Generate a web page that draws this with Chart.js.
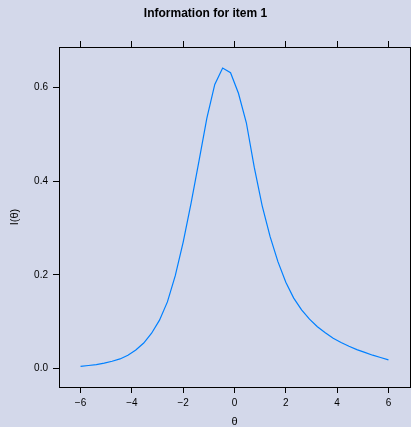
<!DOCTYPE html>
<html>
<head>
<meta charset="utf-8">
<script src="https://cdn.jsdelivr.net/npm/chart.js@4/dist/chart.umd.min.js"></script>
<style>
html, body { margin: 0; padding: 0; background: #d3d8ea; }
canvas { display: block; }
</style>
</head>
<body>
<canvas id="chart" width="411" height="427"></canvas>
<script>
// theta grid (40 points from -6 to 6) and item information
const theta = [-6, -5.692, -5.385, -5.077, -4.769, -4.462, -4.154, -3.846, -3.538, -3.231,
               -2.923, -2.615, -2.308, -2, -1.692, -1.385, -1.077, -0.769, -0.462, -0.154,
               0.154, 0.462, 0.769, 1.077, 1.385, 1.692, 2, 2.308, 2.615, 2.923,
               3.231, 3.538, 3.846, 4.154, 4.462, 4.769, 5.077, 5.385, 5.692, 6];
const info = [0.004, 0.006, 0.008, 0.011, 0.015, 0.020, 0.028, 0.039, 0.054, 0.075,
              0.103, 0.142, 0.198, 0.270, 0.353, 0.443, 0.535, 0.607, 0.642, 0.632,
              0.588, 0.525, 0.430, 0.348, 0.282, 0.228, 0.184, 0.150, 0.125, 0.105,
              0.089, 0.076, 0.064, 0.055, 0.047, 0.040, 0.034, 0.028, 0.023, 0.018];
const xTicks = [-6, -4, -2, 0, 2, 4, 6];
const yTicks = [0, 0.2, 0.4, 0.6];

const bg = "#d3d8ea";
Chart.defaults.font.family = "'Liberation Sans', Arial, Helvetica, sans-serif";
Chart.defaults.color = "#000";

// fill the whole canvas like the lattice panel background
const bgPlugin = {
    id: "bg",
    beforeDraw(chart) {
        const c = chart.ctx;
        c.save();
        c.fillStyle = bg;
        c.fillRect(0, 0, chart.width, chart.height);
        c.restore();
    }
};

const gridOpts = { drawOnChartArea: false, drawTicks: true, tickLength: 6, color: "#000", tickColor: "#000", lineWidth: 1 };
const borderOpts = { display: true, color: "#000", width: 1 };
const xRange = { min: -6.84, max: 6.84 };
const yRange = { min: -0.04, max: 0.687 };

new Chart(document.getElementById("chart"), {
    type: "line",
    data: {
        datasets: [{
            data: theta.map((t, i) => ({ x: t, y: info[i] })),
            borderColor: "#0080ff",
            borderWidth: 1.2,
            pointRadius: 0,
            tension: 0,
            fill: false
        }]
    },
    options: {
        responsive: false,
        animation: false,
        devicePixelRatio: 1,
        layout: { padding: 0 },
        plugins: {
            legend: { display: false },
            tooltip: { enabled: false },
            title: {
                display: true,
                text: "Information for item 1",
                color: "#000",
                font: { size: 12, weight: "bold" },
                padding: { top: 6, bottom: 20.6 }
            }
        },
        scales: {
            x: {
                type: "linear", position: "bottom", ...xRange,
                afterBuildTicks: ax => { ax.ticks = xTicks.map(v => ({ value: v })); },
                afterFit: ax => { ax.height = 40; },
                ticks: {
                    font: { size: 10 }, color: "#000", padding: 4, maxRotation: 0, minRotation: 0, autoSkip: false,
                    callback: v => String(v).replace("-", "\u2212")
                },
                grid: gridOpts, border: borderOpts,
                title: { display: true, text: "θ", font: { size: 11, lineHeight: 1 }, padding: { top: 0, bottom: 0 } }
            },
            x2: {
                type: "linear", position: "top", ...xRange,
                afterBuildTicks: ax => { ax.ticks = xTicks.map(v => ({ value: v })); },
                afterFit: ax => { ax.height = 6; },
                ticks: { display: false },
                grid: gridOpts, border: borderOpts
            },
            y: {
                type: "linear", position: "left", ...yRange,
                afterBuildTicks: ax => { ax.ticks = yTicks.map(v => ({ value: v })); },
                afterFit: ax => { ax.width = 59; },
                ticks: { font: { size: 10 }, color: "#000", padding: 5, callback: v => v.toFixed(1) },
                grid: gridOpts, border: borderOpts,
                title: { display: true, text: "I(θ)", font: { size: 11, lineHeight: 1 }, padding: { top: 9.5, bottom: 0 } }
            },
            y2: {
                type: "linear", position: "right", ...yRange,
                afterBuildTicks: ax => { ax.ticks = yTicks.map(v => ({ value: v })); },
                afterFit: ax => { ax.width = 1; },
                ticks: { display: false },
                grid: gridOpts, border: borderOpts
            }
        }
    },
    plugins: [bgPlugin]
});
</script>
</body>
</html>
